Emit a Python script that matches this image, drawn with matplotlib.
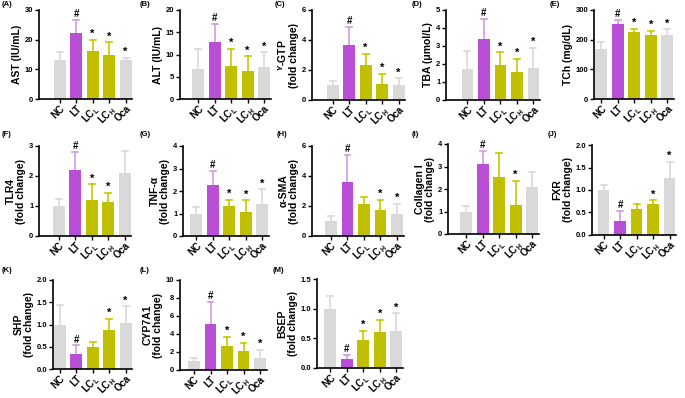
import matplotlib.pyplot as plt
import numpy as np

plt.rcParams['font.family'] = ['Liberation Sans', 'DejaVu Sans']
plt.rcParams['font.weight'] = 'bold'
plt.rcParams['mathtext.fontset'] = 'custom'
plt.rcParams['mathtext.rm'] = 'Liberation Sans:bold'
plt.rcParams['mathtext.bf'] = 'Liberation Sans:bold'

groups = ['NC', 'LT', 'LC$_\\mathrm{L}$', 'LC$_\\mathrm{H}$', 'Oca']

# means / upper error bar tops
ast = [13.0, 22.3, 16.1, 14.9, 13.2]
ast_top = [16.0, 26.7, 20.0, 19.1, 13.8]
alt = [6.8, 12.8, 7.5, 6.4, 7.3]
alt_top = [11.3, 16.9, 11.3, 9.6, 10.5]
ggt = [1.0, 3.65, 2.35, 1.1, 1.0]
ggt_top = [1.3, 4.85, 3.1, 1.75, 1.45]
tba = [1.7, 3.4, 1.95, 1.55, 1.8]
tba_top = [2.7, 4.5, 2.65, 2.3, 2.9]
tch = [167, 252, 226, 215, 217]
tch_top = [193, 265, 237, 230, 235]
tlr4 = [1.0, 2.2, 1.2, 1.12, 2.1]
tlr4_top = [1.22, 2.8, 1.72, 1.45, 2.82]
tnf = [1.0, 2.28, 1.33, 1.05, 1.43]
tnf_top = [1.3, 2.9, 1.6, 1.58, 2.07]
sma = [1.0, 3.6, 2.15, 1.75, 1.45]
sma_top = [1.35, 5.4, 2.6, 2.4, 2.15]
col1 = [1.0, 3.1, 2.52, 1.28, 2.1]
col1_top = [1.25, 3.68, 3.62, 2.37, 2.75]
fxr = [1.0, 0.3, 0.58, 0.68, 1.26]
fxr_top = [1.12, 0.53, 0.68, 0.77, 1.63]
shp = [1.0, 0.33, 0.5, 0.87, 1.04]
shp_top = [1.43, 0.53, 0.61, 1.12, 1.41]
cyp = [1.0, 5.1, 2.7, 2.15, 1.35]
cyp_top = [1.35, 7.6, 3.65, 3.0, 2.2]
bsep = [1.0, 0.15, 0.47, 0.6, 0.63]
bsep_top = [1.21, 0.22, 0.63, 0.81, 0.92]

colors = ['#d9d9d9', '#b94fd5', '#c0c000', '#c0c000', '#d9d9d9']
err_colors = ['#d9d9d9', '#d49be3', '#c8c800', '#c8c800', '#d9d9d9']

FW, FH = 685, 398
fig = plt.figure(figsize=(FW / 100, FH / 100), dpi=100)

step = 16.5

def panel(letter, x0, ytop, ybot, gap, vals, tops, ymax, ticks, ylabel, marks, ticklab=None):
    width = (gap + 4.4) * step
    ax = fig.add_axes([x0 / FW, 1 - ybot / FH, width / FW, (ybot - ytop) / FH])
    x = np.arange(5)
    ax.bar(x, vals, width=0.72, color=colors, zorder=2)
    for i in range(5):
        ax.plot([i, i], [vals[i], tops[i]], color=err_colors[i], lw=1.2, zorder=1)
        ax.plot([i - 0.18, i + 0.18], [tops[i], tops[i]], color=err_colors[i], lw=1.2, zorder=1)
        if marks[i]:
            ax.text(i, tops[i] + ymax * 0.01, marks[i], ha='center', va='bottom',
                    fontsize=8 if marks[i] == '*' else 7, fontweight='bold')
    ax.set_xlim(-gap, 4.4)
    ax.set_ylim(0, ymax)
    ax.set_yticks(ticks)
    if ticklab:
        ax.set_yticklabels(ticklab)
    ax.set_xticks(x)
    ax.set_xticklabels(groups, rotation=45, ha='right', rotation_mode='anchor', fontsize=7)
    for s in ['top', 'right']:
        ax.spines[s].set_visible(False)
    for s in ['left', 'bottom']:
        ax.spines[s].set_linewidth(1.2)
    ax.tick_params(axis='y', labelsize=5.5, length=3, width=1, pad=1)
    ax.tick_params(axis='x', length=3, width=1, pad=0)
    ax.set_ylabel(ylabel, fontsize=7.5, fontweight='bold', labelpad=2, linespacing=1.1)
    return ax

m4 = ['#', '*', '*', '*']

panel('A', 39, 10, 99, 1.25, ast, ast_top, 30, [0, 10, 20, 30], 'AST (IU/mL)', [''] + m4)
panel('B', 180, 10, 99, 1.1, alt, alt_top, 20, [0, 5, 10, 15, 20], 'ALT (IU/mL)', [''] + m4)
panel('C', 312, 10, 100, 1.25, ggt, ggt_top, 6, [0, 2, 4, 6], '$^{\\gamma}$-GTP\n(fold change)', [''] + m4)
panel('D', 446, 10, 100, 1.3, tba, tba_top, 5, [0, 1, 2, 3, 4, 5], 'TBA (μmol/L)', [''] + m4)
panel('E', 594, 10, 99, 0.45, tch, tch_top, 300, [0, 100, 200, 300], 'TCh (mg/dL)', [''] + m4)

panel('F', 39, 146, 236, 1.2, tlr4, tlr4_top, 3, [0, 1, 2, 3], 'TLR4\n(fold change)', ['', '#', '*', '*', ''])
panel('G', 183, 146, 236, 0.8, tnf, tnf_top, 4, [0, 1, 2, 3, 4], 'TNF-α\n(fold change)', [''] + m4)
panel('H', 312, 146, 236, 1.15, sma, sma_top, 6, [0, 2, 4, 6], 'α-SMA\n(fold change)', ['', '#', '', '*', '*'])
panel('I', 448, 144, 234, 1.1, col1, col1_top, 4, [0, 1, 2, 3, 4], 'Collagen I\n(fold change)', ['', '#', '', '*', ''])
panel('J', 592, 145, 235, 0.7, fxr, fxr_top, 2, [0, 0.5, 1, 1.5, 2], 'FXR\n(fold change)', ['', '#', '', '*', '*'],
      ['0.0', '0.5', '1.0', '1.5', '2.0'])

panel('K', 53, 280, 369, 0.4, shp, shp_top, 2, [0, 0.5, 1, 1.5, 2], 'SHP\n(fold change)', ['', '#', '', '*', '*'],
      ['0.0', '0.5', '1.0', '1.5', '2.0'])
panel('L', 180, 280, 370, 0.85, cyp, cyp_top, 10, [0, 2, 4, 6, 8, 10], 'CYP7A1\n(fold change)', [''] + m4)
panel('M', 317, 279, 368, 0.8, bsep, bsep_top, 1.5, [0, 0.5, 1, 1.5], 'BSEP\n(fold change)', [''] + m4,
      ['0.0', '0.5', '1.0', '1.5'])

labels = [('(A)', 2, 5), ('(B)', 140, 5), ('(C)', 275, 5), ('(D)', 412, 5), ('(E)', 550, 5),
          ('(F)', 2, 135), ('(G)', 140, 135), ('(H)', 277, 135), ('(I)', 412, 135), ('(J)', 548, 135),
          ('(K)', 2, 270), ('(L)', 140, 270), ('(M)', 273, 270)]
for t, px, py in labels:
    fig.text(px / FW, 1 - py / FH, t, fontsize=5.5, fontweight='bold', ha='left', va='center')

fig.savefig('out.png', dpi=100)
